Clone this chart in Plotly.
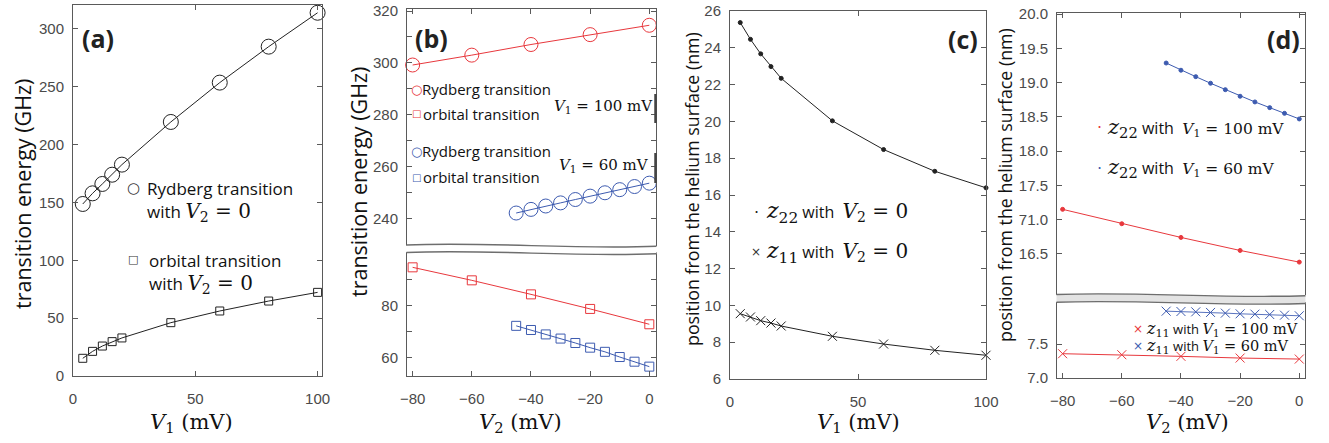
import plotly.graph_objects as go

W, H = 1329, 443
OFF = 0  # page body margin removed via post_script

# ---------------- data ----------------
# Panel (a): transition energy vs V1 (V2 = 0)
a_v1 = [4, 8, 12, 16, 20, 40, 60, 80, 100]
a_rydberg = [148.7, 157.9, 166.0, 174.0, 182.7, 219.6, 253.6, 284.7, 314.0]
a_orbital = [15.3, 21.3, 25.9, 29.7, 32.9, 46.1, 56.2, 64.8, 72.3]

# Panel (b): transition energy vs V2
b_v2_100 = [-80, -60, -40, -20, 0]
b_ryd_100 = [299.2, 303.0, 307.1, 310.9, 314.5]
b_orb_100 = [94.6, 89.6, 84.2, 78.6, 72.7]
b_v2_60 = [-45, -40, -35, -30, -25, -20, -15, -10, -5, 0]
b_ryd_60 = [242.2, 243.6, 244.9, 246.1, 247.4, 248.7, 250.0, 251.2, 252.4, 253.7]
b_orb_60 = [72.1, 70.5, 68.8, 67.2, 65.5, 63.7, 62.1, 60.1, 58.3, 56.4]

# Panel (c): position vs V1 (V2 = 0)
c_v1 = [4, 8, 12, 16, 20, 40, 60, 80, 100]
c_z22 = [25.37, 24.46, 23.67, 22.98, 22.34, 20.03, 18.47, 17.29, 16.39]
c_z11 = [9.55, 9.37, 9.17, 9.04, 8.88, 8.32, 7.90, 7.56, 7.29]

# Panel (d): position vs V2
d_v2_100 = [-80, -60, -40, -20, 0]
d_v2_60 = [-45, -40, -35, -30, -25, -20, -15, -10, -5, 0]
d_z22_100 = [17.15, 16.94, 16.74, 16.55, 16.38]
d_z22_60 = [19.285, 19.18, 19.086, 18.99, 18.896, 18.80, 18.717, 18.634, 18.551, 18.469]
d_z11_100 = [7.358, 7.343, 7.319, 7.294, 7.279]
d_z11_60 = [7.985, 7.980, 7.975, 7.966, 7.956, 7.946, 7.941, 7.936, 7.926, 7.917]

# tick labels
a_yticks = [0, 50, 100, 150, 200, 250, 300]
ab_xticks_v1 = [0, 50, 100]
v2_ticks = [-80, -60, -40, -20, 0]
b_top_ticks = [240, 250, 260, 270, 280, 290, 300, 310, 320]
b_top_text = ["240", "", "260", "", "280", "", "300", "", "320"]
b_bot_ticks = [60, 70, 80, 90]
b_bot_text = ["60", "", "80", ""]
c_yticks = [6, 8, 10, 12, 14, 16, 18, 20, 22, 24, 26]
d_top_ticks = [16.5, 17.0, 17.5, 18.0, 18.5, 19.0, 19.5, 20.0]
d_top_text = ["16.5", "71.0", "17.5", "18.0", "18.5", "19.0", "19.5", "20.0"]
d_bot_ticks = [7.0, 7.5]
d_bot_text = ["7.0", "7.5"]

RED = "#e8383d"
BLUE = "#3d5bb0"
BLUE_L = "#5a74bf"
BLACK = "#222222"
AXC = "#5a5a5a"


def px(x):
    return min(1.0, max(0.0, (x - OFF) / W))


def py(y):
    return min(1.0, max(0.0, 1 - (y - OFF) / H))


TICKFONT = dict(family="Liberation Sans, Arial, sans-serif", size=15, color="#4a4a4a")


def xax(dom, rng, ticks, text=None, side="bottom", labels=True, mirror="allticks", anchor="y"):
    d = dict(domain=[px(dom[0]), px(dom[1])], range=rng, anchor=anchor, automargin=False,
             showline=True, linecolor=AXC, linewidth=1, ticks="inside", ticklen=5,
             tickcolor=AXC, mirror=mirror, showgrid=False, zeroline=False,
             tickvals=ticks, tickfont=TICKFONT, side=side, showticklabels=labels,
             ticklabelstandoff=9, ticklabeloverflow="allow")
    if text is not None:
        d["ticktext"] = text
    return d


def yax(dom, rng, ticks, text=None, anchor="x"):
    d = dict(domain=[py(dom[1]), py(dom[0])], range=rng, anchor=anchor, automargin=False,
             showline=True, linecolor=AXC, linewidth=1, ticks="inside", ticklen=5,
             tickcolor=AXC, mirror="allticks", showgrid=False, zeroline=False,
             tickvals=ticks, tickfont=TICKFONT, ticklabelstandoff=5,
             ticklabeloverflow="allow")
    if text is not None:
        d["ticktext"] = text
    return d


fig = go.Figure()


def add(x, y, xa, ya, color, symbol, size, lw=1, mlw=1, lcolor=None):
    fig.add_trace(go.Scatter(
        x=x, y=y, xaxis=xa, yaxis=ya, mode="lines+markers", cliponaxis=False,
        line=dict(color=lcolor or color, width=lw),
        marker=dict(symbol=symbol, size=size, color=color, line=dict(color=color, width=mlw)),
        showlegend=False, hoverinfo="skip"))


# (a)
add(a_v1, a_rydberg, "x", "y", BLACK, "circle-open", 15)
add(a_v1, a_orbital, "x", "y", BLACK, "square-open", 8)
# (b)
add(b_v2_100, b_ryd_100, "x2", "y2", RED, "circle-open", 14)
add(b_v2_60, b_ryd_60, "x2", "y2", BLUE, "circle-open", 14)
add(b_v2_100, b_orb_100, "x3", "y3", RED, "square-open", 9)
add(b_v2_60, b_orb_60, "x3", "y3", BLUE, "square-open", 9)
# (c)
add(c_v1, c_z22, "x4", "y4", BLACK, "circle", 4)
add(c_v1, c_z11, "x4", "y4", BLACK, "x-thin-open", 9)
# (d)
add(d_v2_100, d_z22_100, "x5", "y5", RED, "circle", 4)
add(d_v2_60, d_z22_60, "x5", "y5", BLUE, "circle", 4)
add(d_v2_100, d_z11_100, "x6", "y6", RED, "x-thin-open", 9)
add(d_v2_60, d_z11_60, "x6", "y6", BLUE, "x-thin-open", 9, lcolor=BLUE_L)

layout = dict(
    width=W, height=H, margin=dict(l=0, r=0, t=0, b=0, autoexpand=False),
    paper_bgcolor="white", plot_bgcolor="white", showlegend=False,
    xaxis=xax((73, 322), [0, 101.8], ab_xticks_v1, anchor="y"),
    yaxis=yax((5, 376), [0, 320.7], a_yticks, anchor="x"),
    xaxis2=xax((407, 656), [-81.9, 2.26], v2_ticks, side="top", labels=False, mirror=False, anchor="y2"),
    yaxis2=yax((9, 246), [229.5, 320.77], b_top_ticks, b_top_text, anchor="x2"),
    xaxis3=xax((407, 656), [-81.9, 2.26], v2_ticks, mirror=False, anchor="y3"),
    yaxis3=yax((252, 376), [52.8, 100.5], b_bot_ticks, b_bot_text, anchor="x3"),
    xaxis4=xax((730, 986), [0, 100], ab_xticks_v1, anchor="y4"),
    yaxis4=yax((11, 379), [6, 26], c_yticks, anchor="x4"),
    xaxis5=xax((1057, 1305), [-81.9, 1.93], v2_ticks, side="top", labels=False, mirror=False, anchor="y5"),
    yaxis5=yax((13, 295), [15.90, 20.015], d_top_ticks, d_top_text, anchor="x5"),
    xaxis6=xax((1057, 1305), [-81.9, 1.93], v2_ticks, mirror=False, anchor="y6"),
    yaxis6=yax((302, 378), [7.0, 8.12], d_bot_ticks, d_bot_text, anchor="x6"),
)
fig.update_layout(**layout)

# ---------------- axis breaks (wavy bands) ----------------
def wave(x0, x1, yl, yr, amp):
    w = x1 - x0
    return (f"{px(x0)},{py(yl)} C {px(x0 + w * 0.33)},{py(yl - amp)} "
            f"{px(x0 + w * 0.67)},{py(yr + amp)} {px(x1)},{py(yr)}")


def wave_rev(x0, x1, yl, yr, amp):
    w = x1 - x0
    return (f"{px(x1)},{py(yr)} C {px(x0 + w * 0.67)},{py(yr + amp)} "
            f"{px(x0 + w * 0.33)},{py(yl - amp)} {px(x0)},{py(yl)}")


def band(x0, x1, ytop, ybot, amp, fill):
    shapes = []
    shapes.append(dict(type="path", xref="paper", yref="paper", layer="above",
                       path="M " + wave(x0, x1, ytop, ytop + 1.2, amp) + " L " +
                            wave_rev(x0, x1, ybot, ybot + 1.2, amp) + " Z",
                       fillcolor=fill, line=dict(width=0)))
    for yy in (ytop, ybot):
        shapes.append(dict(type="path", xref="paper", yref="paper", layer="above",
                           path="M " + wave(x0, x1, yy, yy + 1.2, amp),
                           line=dict(color="#6e6e6e", width=1.4)))
    return shapes


shapes = []
shapes += band(406.5, 656.5, 245.0, 252.5, 3.5, "white")
shapes += band(1056.5, 1305.5, 294.5, 302.3, 3.0, "#e3e3e3")
# brackets in panel (b)
shapes.append(dict(type="line", xref="paper", yref="paper", x0=px(655.5), x1=px(655.5),
                   y0=py(94), y1=py(123), line=dict(color="#444", width=2.5)))
shapes.append(dict(type="line", xref="paper", yref="paper", x0=px(655.5), x1=px(655.5),
                   y0=py(153), y1=py(183), line=dict(color="#444", width=2.5)))
fig.update_layout(shapes=shapes)

# ---------------- text ----------------
SANS = "'Open Sans', sans-serif"
SERIF = "'DejaVu Serif', serif"
anns = []


def ann(x, y, text, size, family=SANS, color="#111", xanchor="left", angle=0):
    anns.append(dict(x=px(x), y=py(y), xref="paper", yref="paper", text=text,
                     showarrow=False, xanchor=xanchor, yanchor="middle", textangle=angle,
                     borderpad=0, font=dict(family=family, size=size, color=color)))


def math(s, size):
    return f'<span style="font-family:{SERIF};font-size:{size}px">{s}</span>'


# panel labels
for (x, y, t) in [(98, 38, "(a)"), (431, 38, "(b)"), (963, 39, "(c)"), (1283, 39, "(d)")]:
    ann(x, y, f"<b>{t}</b>", 25, family="'Open Sans', Arial, sans-serif", color="#222", xanchor="center")

# axis titles
ann(23, 194, "transition energy (GHz)", 21.5, xanchor="center", angle=-90)
ann(358, 182, "transition energy (GHz)", 21.5, xanchor="center", angle=-90)
ann(692, 189, "position from the helium surface (nm)", 17.8, xanchor="center", angle=-90)
ann(1005, 185, "position from the helium surface (nm)", 17.8, xanchor="center", angle=-90)
xt1 = "<i>V</i><sub>1</sub> (mV)"
xt2 = "<i>V</i><sub>2</sub> (mV)"
for (x, t) in [(191, xt1), (520, xt2), (858, xt1), (1187, xt2)]:
    ann(x, 423, t, 21, family=SERIF, xanchor="center")

SYM = "'DejaVu Sans', sans-serif"
V2eq0 = math("<i>V</i><sub>2</sub> = 0", 20)
# (a) legend
ann(133, 188, "○", 15, family=SYM, color="#333", xanchor="center")
ann(146, 188, "Rydberg transition", 17)
ann(146, 212, "with " + V2eq0, 17)
ann(133, 259, "□", 11, family=SYM, color="#333", xanchor="center")
ann(148, 260, "orbital transition", 17)
ann(148, 284, "with " + V2eq0, 17)

# (b) legend
ann(416, 89, "○", 13, family=SYM, color=RED, xanchor="center")
ann(421, 89, "Rydberg transition", 15)
ann(416, 114, "□", 10, family=SYM, color=RED, xanchor="center")
ann(422, 114, "orbital transition", 15)
ann(416, 151, "○", 13, family=SYM, color=BLUE, xanchor="center")
ann(421, 151, "Rydberg transition", 15)
ann(416, 177, "□", 10, family=SYM, color=BLUE, xanchor="center")
ann(422, 177, "orbital transition", 15)
ann(654, 107, "<i>V</i><sub>1</sub> = 100 mV", 15, family=SERIF, xanchor="right")
ann(650, 165, "<i>V</i><sub>1</sub> = 60 mV", 15, family=SERIF, xanchor="right")

# (c) legend
ann(756, 212, "·", 16, family=SYM, color="#222", xanchor="center")
ann(765, 212, math("<i>z</i><sub>22</sub>", 22) + " with  " + V2eq0, 16)
ann(756, 252, "×", 12, family=SYM, color="#333", xanchor="center")
ann(765, 252, math("<i>z</i><sub>11</sub>", 22) + " with  " + V2eq0, 16)

# (d) legend
ann(1099, 128, "·", 16, family=SYM, color=RED, xanchor="center")
ann(1106, 128, math("<i>z</i><sub>22</sub>", 21) + " with  " + math("<i>V</i><sub>1</sub> = 100 mV", 15.5), 16)
ann(1099, 168, "·", 16, family=SYM, color=BLUE, xanchor="center")
ann(1106, 168, math("<i>z</i><sub>22</sub>", 21) + " with  " + math("<i>V</i><sub>1</sub> = 60 mV", 15.5), 16)
ann(1138, 329, "×", 12, family=SYM, color=RED, xanchor="center")
ann(1145, 329, math("<i>z</i><sub>11</sub>", 16) + " with " + math("<i>V</i><sub>1</sub> = 100 mV", 14.5), 13)
ann(1138, 346, "×", 12, family=SYM, color=BLUE, xanchor="center")
ann(1145, 346, math("<i>z</i><sub>11</sub>", 16) + " with " + math("<i>V</i><sub>1</sub> = 60 mV", 14.5), 13)

fig.update_layout(annotations=anns)
fig.write_html("out.html", config={"displayModeBar": False},
               post_script="document.body.style.margin='0';document.body.style.overflow='hidden';")
